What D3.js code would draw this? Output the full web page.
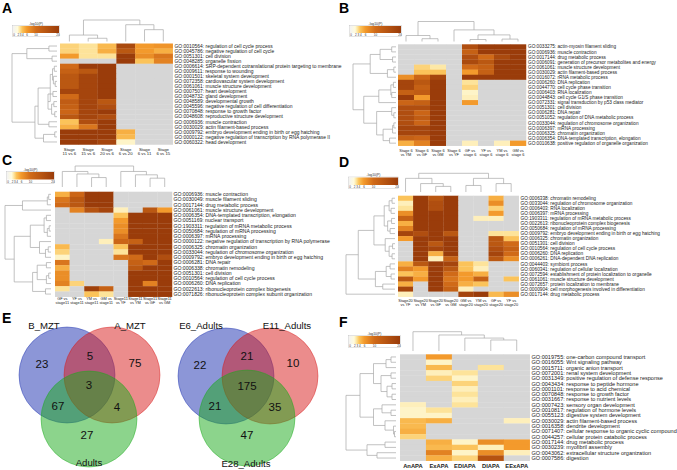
<!DOCTYPE html>
<html><head><meta charset="utf-8">
<script src="https://cdn.jsdelivr.net/npm/d3@7"></script>
<style>body{margin:0;background:#fff}svg{display:block;font-family:"Liberation Sans",Arial,sans-serif}</style>
</head><body><svg id="c" width="677" height="470"></svg>
<script>
const _ = null;
// ---------- colour legend ----------
const legendTicks = [0, 2, 3, 4, 6, 10, 20];
const legendColors = ["#f3f3f3", "#fffbdc", "#fde39a", "#fbc35a", "#f39a2c", "#d06a18", "#9a3c0a"];

// ---------- Panel A ----------
const A_cols = ["Stage\n11 vs 6", "Stage\n15 vs 6", "Stage\n20 vs 6", "Stage\n6 vs 20", "Stage\n6 vs 11", "Stage\n6 vs 15"];
const A_rows = [
  "GO:0010564: regulation of cell cycle process",
  "GO:0045786: negative regulation of cell cycle",
  "GO:0051301: cell division",
  "GO:0048285: organelle fission",
  "GO:0006614: SRP-dependent cotranslational protein targeting to membrane",
  "GO:0009611: response to wounding",
  "GO:0001501: skeletal system development",
  "GO:0072358: cardiovascular system development",
  "GO:0061061: muscle structure development",
  "GO:0007507: heart development",
  "GO:0048732: gland development",
  "GO:0048589: developmental growth",
  "GO:0045596: negative regulation of cell differentiation",
  "GO:0070848: response to growth factor",
  "GO:0048608: reproductive structure development",
  "GO:0006936: muscle contraction",
  "GO:0030029: actin filament-based process",
  "GO:0009792: embryo development ending in birth or egg hatching",
  "GO:0000122: negative regulation of transcription by RNA polymerase II",
  "GO:0060322: head development"];
const A_values = [
  [3.5, 3, 4.5, 17, 6, 6.5],
  [3.5, 3, 5, 14, 6, 5],
  [6, 3, 3, 20, 7, 9],
  [_, _, _, 20, 4, 8],
  [10, 20, 20, _, _, _],
  [12, 14, 20, _, _, _],
  [14, 18, 20, _, _, _],
  [14, 18, 20, _, _, _],
  [14, 18, 20, _, _, _],
  [18, 18, 20, _, _, _],
  [10, 18, 20, _, _, _],
  [13, 18, 14, _, _, _],
  [12, 18, 16, _, _, _],
  [11, 18, 20, _, _, _],
  [14, 18, 16, _, _, _],
  [4, 16, 20, _, _, _],
  [5, 9, 20, _, _, _],
  [20, 20, 20, 5, _, _],
  [20, 20, 20, 4.5, _, _],
  [20, 20, 18, 2.3, _, _]];
const A_colTree = [1, [0.3, 0, [0.15, 1, 2]], [0.78, 3, [0.55, 4, 5]]];
const A_rowTree = [1, [0.67, [0.18, 0, 1], [0.11, 2, 3]], [0.49, [0.42, [0.15, [0.1, [0.06, 4, 5], [0.08, 6, [0.04, 7, 8]]], [0.2, [0.09, 9, 10], [0.12, [0.07, 11, 12], [0.05, 13, 14]]]], [0.18, 15, 16]], [0.3, [0.05, 17, 18], 19]]];

// ---------- Panel B ----------
const B_cols = ["Stage 6\nvs YM", "Stage 6\nvs GF", "Stage 6\nvs GM", "Stage 6\nvs YF", "GF vs\nstage 6", "YF vs\nstage 6", "YM vs\nstage 6", "GM vs\nstage 6"];
const B_rows = [
  "GO:0033275: actin-myosin filament sliding",
  "GO:0006936: muscle contraction",
  "GO:0017144: drug metabolic process",
  "GO:0006091: generation of precursor metabolites and energy",
  "GO:0061061: muscle structure development",
  "GO:0030029: actin filament-based process",
  "GO:0016072: rRNA metabolic process",
  "GO:0006260: DNA replication",
  "GO:0044770: cell cycle phase transition",
  "GO:0006403: RNA localization",
  "GO:0044843: cell cycle G1/S phase transition",
  "GO:0072331: signal transduction by p53 class mediator",
  "GO:0051301: cell division",
  "GO:0006281: DNA repair",
  "GO:0051052: regulation of DNA metabolic process",
  "GO:0033044: regulation of chromosome organization",
  "GO:0006397: mRNA processing",
  "GO:0006325: chromatin organization",
  "GO:0006354: DNA-templated transcription, elongation",
  "GO:0010638: positive regulation of organelle organization"];
const B_values = [
  [_, _, _, _, 16, 20, 20, 20],
  [_, _, _, _, 12, 20, 20, 20],
  [_, _, _, _, 16, 10, 17, 20],
  [_, _, _, _, 17, 14, 20, 20],
  [_, 3.5, 2.8, _, 10, 12, 20, 20],
  [_, 4, 4, _, 6, 12, 20, 20],
  [7, 11, 18, _, 20, 20, 20, 20],
  [18, 14, 20, _, 3, _, _, _],
  [18, 12, 20, _, 3.5, _, _, _],
  [12, 13, 20, _, 2.3, _, _, _],
  [20, 6, 20, _, 2.5, _, _, _],
  [11, 12, 20, _, 6, _, _, _],
  [16, 16, 20, _, _, _, _, _],
  [16, 11, 20, _, _, _, _, _],
  [16, 13, 20, _, _, _, _, _],
  [16, 11, 20, _, _, _, _, _],
  [18, 18, 20, _, _, _, _, _],
  [18, 18, 20, _, _, _, _, _],
  [12, 11, 20, _, _, _, _, _],
  [5, 8, 20, _, 2.5, _, 2.5, 6]];
const B_colTree = [1, [0.3, 0, [0.14, 1, 2]], [0.58, 3, [0.33, [0.1, 4, 5], [0.12, 6, 7]]]];
const B_rowTree = [1, [0.6, [0.37, [0.1, 0, 1], [0.08, 2, 3]], [0.2, [0.05, 4, 5], 6]], [0.75, [0.4, [0.12, [0.06, 7, 8], [0.1, 9, 10]], 11], [0.45, [0.1, 12, [0.05, 13, 14]], [0.3, [0.08, [0.05, 15, 16], 17], [0.15, 18, 19]]]]];

// ---------- Panel C ----------
const C_cols = ["GF vs\nstage11", "YF vs\nstage11", "YM vs\nstage11", "GM vs\nstage11", "Stage11\nvs YF", "Stage11\nvs YM", "Stage11\nvs GF", "Stage11\nvs GM"];
const C_rows = [
  "GO:0006936: muscle contraction",
  "GO:0030049: muscle filament sliding",
  "GO:0017144: drug metabolic process",
  "GO:0061061: muscle structure development",
  "GO:0006354: DNA-templated transcription, elongation",
  "GO:0051169: nuclear transport",
  "GO:1903311: regulation of mRNA metabolic process",
  "GO:0050684: regulation of mRNA processing",
  "GO:0006397: mRNA processing",
  "GO:0000122: negative regulation of transcription by RNA polymerase",
  "GO:0006325: chromatin organization",
  "GO:0033044: regulation of chromosome organization",
  "GO:0009792: embryo development ending in birth or egg hatching",
  "GO:0006281: DNA repair",
  "GO:0006338: chromatin remodeling",
  "GO:0051301: cell division",
  "GO:0010564: regulation of cell cycle process",
  "GO:0006260: DNA replication",
  "GO:0022613: ribonucleoprotein complex biogenesis",
  "GO:0071826: ribonucleoprotein complex subunit organization"];
const C_values = [
  [5, 11, 20, 20, _, _, _, _],
  [9, 14, 20, 20, _, _, _, _],
  [10, 14, 20, 20, _, _, _, _],
  [_, 8, 15, 18, 2.5, _, 14, 6],
  [_, _, _, _, 4, 20, 20, 20],
  [_, _, _, _, 6, 20, 20, 20],
  [_, _, _, _, 7, 20, 20, 20],
  [_, _, _, _, 7, 20, 20, 20],
  [_, _, _, _, 9, 20, 20, 20],
  [_, _, _, 2.5, 11, 12, 20, 20],
  [4.5, _, _, _, 4, 20, 20, 20],
  [3.5, _, _, _, 3, 20, 20, 20],
  [2.3, _, _, _, 9, 10, 20, 16],
  [9, _, _, _, _, 12, 10, 20],
  [5, _, _, _, _, 14, 20, 20],
  [7, _, _, _, _, 20, 20, 20],
  [7, _, _, _, _, 20, 20, 20],
  [8, 3.5, _, _, _, 20, 8, 20],
  [3, _, 19, 12, _, 20, 20, 20],
  [_, _, 4, 3, _, 20, 20, 20]];
const C_colTree = [1, [0.74, 0, [0.62, 1, [0.45, 2, 3]]], [0.74, 4, [0.58, 5, [0.42, 6, 7]]]];
const C_rowTree = [1, [0.62, [0.08, [0.05, 0, 1], 2], 3], [0.8, [0.45, [0.15, [0.1, 4, 5], [0.08, [0.04, 6, 7], 8]], [0.25, 9, [0.12, [0.06, 10, 11], 12]]], [0.4, [0.3, [0.1, 13, 14], [0.1, [0.05, 15, 16], 17]], [0.12, 18, 19]]]];

// ---------- Panel D ----------
const D_cols = ["Stage20\nvs YF", "Stage20\nvs YM", "Stage20\nvs GF", "Stage20\nvs GM", "GM vs\nstage20", "YM vs\nstage20", "GF vs\nstage20", "YF vs\nstage20"];
const D_rows = [
  "GO:0006338: chromatin remodeling",
  "GO:0033044: regulation of chromosome organization",
  "GO:0006403: RNA localization",
  "GO:0006397: mRNA processing",
  "GO:1903311: regulation of mRNA metabolic process",
  "GO:0022613: ribonucleoprotein complex biogenesis",
  "GO:0050684: regulation of mRNA processing",
  "GO:0009792: embryo development ending in birth or egg hatching",
  "GO:0006325: chromatin organization",
  "GO:0051301: cell division",
  "GO:0010564: regulation of cell cycle process",
  "GO:0006260: DNA replication",
  "GO:0006261: DNA-dependent DNA replication",
  "GO:0044403: symbiont process",
  "GO:0060341: regulation of cellular localization",
  "GO:0072594: establishment of protein localization to organelle",
  "GO:0061061: muscle structure development",
  "GO:0072657: protein localization to membrane",
  "GO:0000904: cell morphogenesis involved in differentiation",
  "GO:0017144: drug metabolic process"];
const D_values = [
  [4, 20, 14, 20, _, _, 5, _],
  [2.5, 20, 16, 20, _, _, 7, _],
  [3, 20, 16, 20, _, _, 3.5, _],
  [7, 20, 20, 20, _, _, 6, _],
  [12, 20, 20, 20, _, 2.5, 2.5, _],
  [5, 20, 20, 20, _, _, _, _],
  [8, 20, 20, 20, _, _, _, _],
  [18, 16, 20, 14, _, _, 3, 3],
  [6, 20, 20, 20, _, _, 14, 4],
  [_, 20, 14, 20, _, _, 14, 10],
  [_, 20, 18, 20, _, _, 16, 12],
  [_, 20, 5, 20, _, _, 18, 10],
  [_, 20, 2.5, 12, _, _, 14, 7],
  [5, 14, 20, 18, 4, 3, _, _],
  [8, 6, 20, 14, 4, 2.5, _, _],
  [4, 5, 20, 10, 6, 5, _, _],
  [14, 6, 20, 9, 6, 12, _, 4],
  [5, _, 20, 10, 5, 4, _, _],
  [18, _, 20, 12, 2.5, _, _, _],
  [2.5, _, _, _, 18, 20, 4.5, 7]];
const D_colTree = [1, [0.73, 0, [0.45, 1, [0.3, 2, 3]]], [0.73, [0.35, 4, 5], [0.45, 6, 7]]];
const D_rowTree = [1, [0.75, [0.43, [0.22, [0.12, [0.06, 0, 1], [0.08, 2, 3]], [0.15, [0.07, 4, 5], [0.1, 6, 7]]], [0.2, 8, [0.12, [0.05, 9, 10], [0.06, 11, 12]]]], [0.4, [0.18, [0.1, 13, 14], [0.08, 15, 16]], [0.25, 17, 18]]], 19];

// ---------- Panel F ----------
const F_cols = ["AnAPA", "ExAPA", "EDIAPA", "DIAPA", "EExAPA"];
const F_rows = [
  "GO:0019755: one-carbon compound transport",
  "GO:0016055: Wnt signaling pathway",
  "GO:0015711: organic anion transport",
  "GO:0072001: renal system development",
  "GO:0031349: positive regulation of defense response",
  "GO:0043434: response to peptide hormone",
  "GO:0001101: response to acid chemical",
  "GO:0070848: response to growth factor",
  "GO:0031667: response to nutrient levels",
  "GO:0007423: sensory organ development",
  "GO:0010817: regulation of hormone levels",
  "GO:0055123: digestive system development",
  "GO:0030029: actin filament-based process",
  "GO:0016358: dendrite development",
  "GO:0071407: cellular response to organic cyclic compound",
  "GO:0044257: cellular protein catabolic process",
  "GO:0017144: drug metabolic process",
  "GO:0030239: myofibril assembly",
  "GO:0043062: extracellular structure organization",
  "GO:0007586: digestion"];
const F_values = [
  [_, 6, _, _, _],
  [_, 2.3, _, _, _],
  [_, 4.5, _, 3, _],
  [_, 2.5, 3, _, _],
  [_, 3.5, 2.3, _, _],
  [_, _, 3.5, _, _],
  [_, _, 2.5, _, _],
  [_, _, 3, _, _],
  [_, _, 2.5, _, _],
  [2.5, _, 3, _, _],
  [2.3, 3, _, _, _],
  [2.3, 2.3, _, _, _],
  [4.5, 5, _, _, 2.5],
  [4.5, _, _, _, _],
  [5, _, _, _, _],
  [3.5, _, _, _, _],
  [_, 5, 2.3, 7, 6],
  [_, 4.5, 4, 2.5, 6],
  [_, 8, 2.3, 7, 2.5],
  [_, 5, 3.5, 15, _]];
const F_colTree = [1, 0, [0.83, 1, [0.67, 2, [0.57, 3, 4]]]];
const F_rowTree = [1, [0.72, [0.45, [0.2, [0.1, 0, 1], 2], [0.3, [0.1, 3, 4], [0.18, [0.08, 5, 6], [0.08, 7, 8]]]], [0.45, [0.28, 9, [0.1, 10, 11]], [0.22, 12, [0.05, 13, [0.03, 14, 15]]]]], [0.58, [0.22, 16, 17], [0.38, 18, 19]]];

// ---------- Panel E (Venn) ----------
const E1_sets = ["B_MZT", "A_MZT", "Adults"];
const E1_counts = [23, 75, 27, 5, 67, 4, 3];   // only1, only2, only3, 1&2, 1&3, 2&3, all
const E2_sets = ["E6_Adults", "E11_Adults", "E28_Adults"];
const E2_counts = [22, 10, 47, 21, 21, 35, 175];

// ================= drawing =================
const svg = d3.select("#c");
svg.append("rect").attr("width", 677).attr("height", 470).attr("fill", "#fff");
const GRAY = "#d6d6d6";
const color = d3.scaleLinear().domain(legendTicks).range(legendColors).clamp(true);

const defs = svg.append("defs");
const grad = defs.append("linearGradient").attr("id", "lg");
legendTicks.forEach((t, i) => grad.append("stop").attr("offset", t / 20).attr("stop-color", legendColors[i]));

function drawTree(g, tree, leafPos, coord, orient) {
  let d = "";
  function seg(p1, c1, p2, c2) {
    if (orient === "col") d += `M${p1},${c1}L${p2},${c2}`;
    else d += `M${c1},${p1}L${c2},${p2}`;
  }
  function rec(node) {
    if (typeof node === "number") return { p: leafPos(node), h: 0 };
    const [h, a, b] = node;
    const ra = rec(a), rb = rec(b);
    const c = coord(h);
    seg(ra.p, coord(ra.h), ra.p, c);
    seg(rb.p, coord(rb.h), rb.p, c);
    seg(ra.p, c, rb.p, c);
    return { p: (ra.p + rb.p) / 2, h: h };
  }
  rec(tree);
  g.append("path").attr("d", d).attr("fill", "none").attr("stroke", "#a8a8a8").attr("stroke-width", 0.7);
}

function drawHeat(p) {
  const g = svg.append("g");
  const [x0, y0, x1, y1] = p.heat;
  const x = d3.scaleBand().domain(d3.range(p.cols.length)).range([x0, x1]);
  const y = d3.scaleBand().domain(d3.range(p.rows.length)).range([y0, y1]);
  const cells = [];
  p.values.forEach((row, i) => row.forEach((v, j) => cells.push({ i, j, v })));
  g.selectAll("rect.cell").data(cells).join("rect").attr("class", "cell")
    .attr("x", d => x(d.j)).attr("y", d => y(d.i))
    .attr("width", x.bandwidth() + 0.25).attr("height", y.bandwidth() + 0.25)
    .attr("fill", d => d.v == null ? GRAY : color(d.v));
  // row labels
  g.selectAll("text.row").data(p.rows).join("text").attr("class", "row")
    .attr("x", p.labelX).attr("y", (d, i) => y(i) + y.bandwidth() / 2).attr("dy", "0.35em")
    .attr("font-size", p.rowFont).attr("fill", "#222").text(d => d);
  // column labels
  p.cols.forEach((c, j) => {
    c.split("\n").forEach((line, k) => {
      g.append("text").attr("x", x(j) + x.bandwidth() / 2).attr("y", p.colLabelY[k])
        .attr("text-anchor", "middle").attr("font-size", p.colFont)
        .attr("font-weight", p.colBold ? "bold" : "normal").attr("fill", "#222").text(line);
    });
  });
  // column dendrogram
  const cs = d3.scaleLinear().domain([0, 1]).range([p.colD[1], p.colD[0]]);
  drawTree(g, p.colTree, j => x(j) + x.bandwidth() / 2, cs, "col");
  // row dendrogram
  const rs = d3.scaleLinear().domain([0, 1]).range([p.rowD[1], p.rowD[0]]);
  drawTree(g, p.rowTree, i => y(i) + y.bandwidth() / 2, rs, "row");
  // legend
  const [lx, ly, lw, lh] = p.legend;
  g.append("rect").attr("x", lx - 0.5).attr("y", ly - 0.5).attr("width", lw + 1).attr("height", lh + 4.2)
    .attr("fill", "#fff").attr("stroke", "#bbb").attr("stroke-width", 0.4);
  g.append("rect").attr("x", lx).attr("y", ly).attr("width", lw).attr("height", lh).attr("fill", "url(#lg)");
  g.append("text").attr("x", lx + lw / 2).attr("y", ly - 1.2).attr("text-anchor", "middle")
    .attr("font-size", 3.4).attr("fill", "#333").text("-log10(P)");
  const ls = d3.scaleLinear().domain([0, 20]).range([lx + 1, lx + lw - 1]);
  g.selectAll("text.tk").data(legendTicks).join("text").attr("class", "tk")
    .attr("x", d => ls(d)).attr("y", ly + lh + 3).attr("text-anchor", "middle")
    .attr("font-size", 3).attr("fill", "#333").text(d => d);
}

drawHeat({ cols: A_cols, rows: A_rows, values: A_values, colTree: A_colTree, rowTree: A_rowTree,
  heat: [60, 43.5, 172.7, 144.5], colD: [20, 41.5], rowD: [12, 57], legend: [13, 26, 46, 7],
  labelX: 174.5, rowFont: 4.95, colLabelY: [151, 155.2], colFont: 4.3 });
drawHeat({ cols: B_cols, rows: B_rows, values: B_values, colTree: B_colTree, rowTree: B_rowTree,
  heat: [398, 44.3, 526, 145.7], colD: [21.5, 41.5], rowD: [353, 396], legend: [350, 26, 51, 7],
  labelX: 528, rowFont: 4.7, colLabelY: [152.3, 156.3], colFont: 3.9 });
drawHeat({ cols: C_cols, rows: C_rows, values: C_values, colTree: C_colTree, rowTree: C_rowTree,
  heat: [55, 191.7, 172, 296.7], colD: [166, 187], rowD: [5, 51], legend: [7, 172, 47, 7.5],
  labelX: 173.5, rowFont: 5.1, colLabelY: [300.2, 304], colFont: 3.9 });
drawHeat({ cols: D_cols, rows: D_rows, values: D_values, colTree: D_colTree, rowTree: D_rowTree,
  heat: [398, 195.7, 518.7, 296.7], colD: [173.3, 192], rowD: [346, 395], legend: [349, 177.5, 49, 7.5],
  labelX: 520.5, rowFont: 4.75, colLabelY: [301.5, 305.5], colFont: 3.9 });
drawHeat({ cols: F_cols, rows: F_rows, values: F_values, colTree: F_colTree, rowTree: F_rowTree,
  heat: [400, 354.3, 529.7, 460.7], colD: [331.7, 351], rowD: [346, 396], legend: [349, 336, 51, 8],
  labelX: 531.5, rowFont: 5.55, colLabelY: [467.5], colFont: 5.8, colBold: true });

// ---------- Venn ----------
const vennFill = ["rgb(25,45,175)", "rgb(215,25,25)", "rgb(25,170,25)"];
function drawVenn(sets, counts, L) {
  const g = svg.append("g");
  L.circles.forEach((c, i) => {
    g.append("circle").attr("cx", c[0]).attr("cy", c[1]).attr("r", L.r)
      .attr("fill", vennFill[i]).attr("fill-opacity", 0.5)
      .attr("stroke", vennFill[i]).attr("stroke-opacity", 0.55).attr("stroke-width", 0.8);
  });
  counts.forEach((n, k) => {
    g.append("text").attr("x", L.nums[k][0]).attr("y", L.nums[k][1]).attr("dy", "0.36em")
      .attr("text-anchor", "middle").attr("font-size", 11.5).attr("fill", "#111").text(n);
  });
  sets.forEach((s, i) => {
    g.append("text").attr("x", L.labels[i][0]).attr("y", L.labels[i][1])
      .attr("text-anchor", "middle").attr("font-size", 9.6).attr("fill", "#111").text(s);
  });
}
drawVenn(E1_sets, E1_counts, {
  r: 48, circles: [[67, 375], [112, 375], [89, 419]],
  nums: [[42, 364], [135, 363], [87, 435], [90, 356], [58, 406], [117, 407], [89, 385]],
  labels: [[44, 329], [130, 329], [89, 466]] });
drawVenn(E2_sets, E2_counts, {
  r: 48, circles: [[226, 376], [270, 376], [247, 418]],
  nums: [[200, 365], [293, 363], [247, 435], [247, 356], [215, 406], [275, 407], [247, 386]],
  labels: [[201, 329], [287, 329], [246, 467]] });

// ---------- panel letters ----------
const letters = [["A", 2, 12.5], ["B", 339, 12.5], ["C", 2, 165], ["D", 339, 167], ["E", 2, 323], ["F", 339, 327]];
svg.selectAll("text.L").data(letters).join("text").attr("class", "L")
  .attr("x", d => d[1]).attr("y", d => d[2]).attr("font-size", 14).attr("font-weight", "bold")
  .attr("fill", "#000").text(d => d[0]);
</script></body></html>
